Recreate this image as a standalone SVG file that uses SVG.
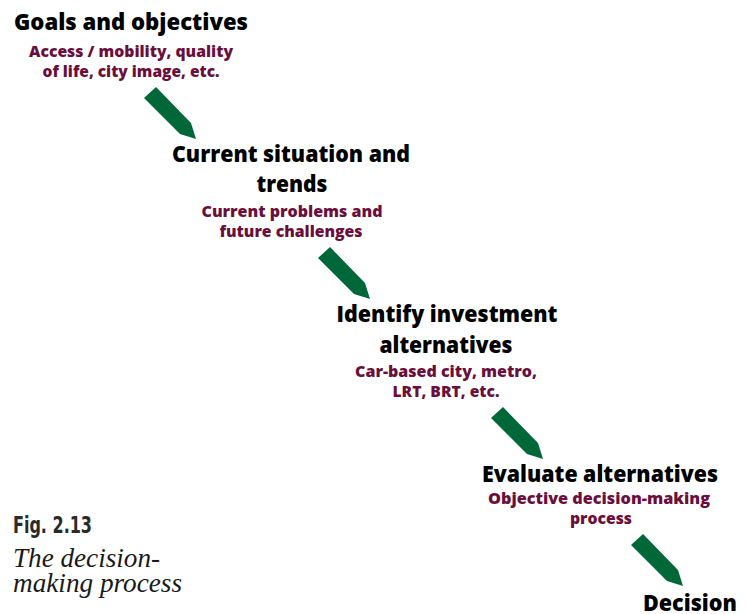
<svg xmlns="http://www.w3.org/2000/svg" width="747" height="614" viewBox="0 0 747 614">
  <defs>
    <style>
      .t { font-family: "Open Sans", "Noto Sans", "Liberation Sans", sans-serif; font-weight: 800; font-size: 22px; fill: #000; text-anchor: middle; }
      .s { font-family: "Open Sans", "Noto Sans", "Liberation Sans", sans-serif; font-weight: 800; font-size: 16px; fill: #6a0f3c; text-anchor: middle; }
      .arrow { fill: #006838; }
      .fig { font-family: "DejaVu Sans", "Liberation Sans", sans-serif; font-stretch: condensed; font-weight: bold; font-size: 23px; fill: #2a2a2a; }
      .cap { font-family: "Liberation Serif", serif; font-style: italic; font-size: 28px; fill: #1a1a1a; }
    </style>
    <polygon id="pencil" points="-12,11 0,0 35,36 40,52 24,47"/>
  </defs>
  <rect width="747" height="614" fill="#ffffff"/>

  <g id="connectors">
    <use href="#pencil" class="arrow" x="156" y="87"/>
    <use href="#pencil" class="arrow" x="330" y="247"/>
    <use href="#pencil" class="arrow" x="503" y="407"/>
    <use href="#pencil" class="arrow" x="643" y="534"/>
  </g>

  <g id="goals">
    <text class="t" x="131" y="30" textLength="234" lengthAdjust="spacingAndGlyphs">Goals and objectives</text>
    <text class="s" x="131" y="57" textLength="204" lengthAdjust="spacingAndGlyphs">Access / mobility, quality</text>
    <text class="s" x="131" y="77" textLength="177" lengthAdjust="spacingAndGlyphs">of life, city image, etc.</text>
  </g>

  <g id="current">
    <text class="t" x="291" y="162" textLength="238" lengthAdjust="spacingAndGlyphs">Current situation and</text>
    <text class="t" x="292" y="192" textLength="71" lengthAdjust="spacingAndGlyphs">trends</text>
    <text class="s" x="292" y="217" textLength="181" lengthAdjust="spacingAndGlyphs">Current problems and</text>
    <text class="s" x="291" y="237" textLength="143" lengthAdjust="spacingAndGlyphs">future challenges</text>
  </g>

  <g id="identify">
    <text class="t" x="447" y="322" textLength="221" lengthAdjust="spacingAndGlyphs">Identify investment</text>
    <text class="t" x="446" y="353" textLength="133" lengthAdjust="spacingAndGlyphs">alternatives</text>
    <text class="s" x="446" y="377" textLength="182" lengthAdjust="spacingAndGlyphs">Car-based city, metro,</text>
    <text class="s" x="446" y="397" textLength="107" lengthAdjust="spacingAndGlyphs">LRT, BRT, etc.</text>
  </g>

  <g id="evaluate">
    <text class="t" x="600" y="482" textLength="236" lengthAdjust="spacingAndGlyphs">Evaluate alternatives</text>
    <text class="s" x="599" y="504" textLength="222" lengthAdjust="spacingAndGlyphs">Objective decision-making</text>
    <text class="s" x="601" y="524" textLength="62" lengthAdjust="spacingAndGlyphs">process</text>
  </g>

  <g id="decision">
    <text class="t" x="690" y="611" textLength="94" lengthAdjust="spacingAndGlyphs">Decision</text>
  </g>

  <g id="caption">
    <text class="fig" x="13" y="533" textLength="79" lengthAdjust="spacingAndGlyphs">Fig. 2.13</text>
    <text class="cap" x="13" y="567" textLength="147" lengthAdjust="spacingAndGlyphs">The decision-</text>
    <text class="cap" x="13" y="592" textLength="169" lengthAdjust="spacingAndGlyphs">making process</text>
  </g>
</svg>
